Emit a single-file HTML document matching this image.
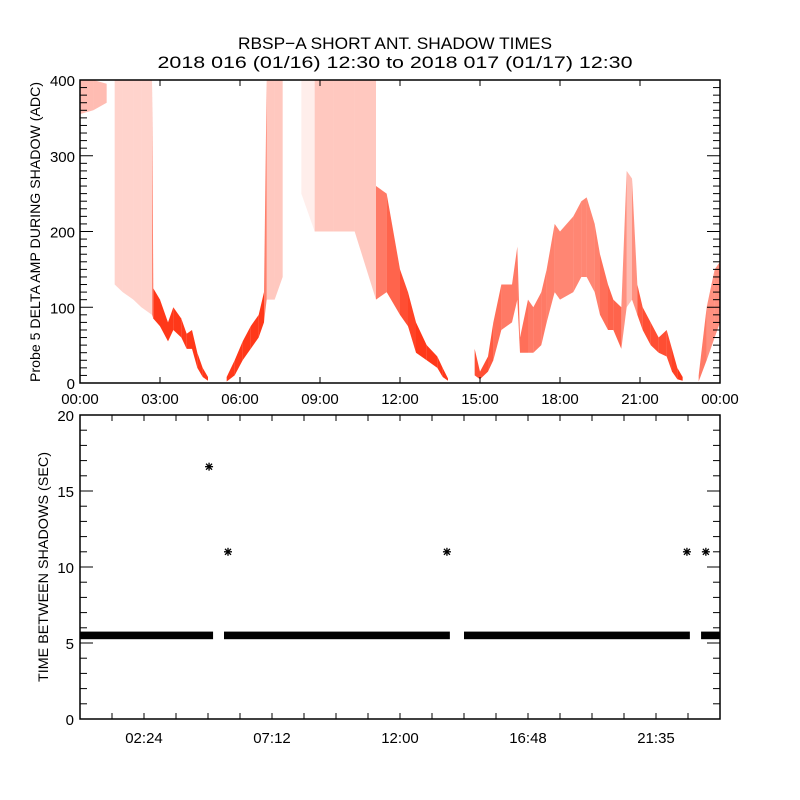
<!DOCTYPE html>
<html><head><meta charset="utf-8"><style>
html,body{margin:0;padding:0;background:#fff;}
svg{display:block;}
text{font-family:"Liberation Sans",sans-serif;fill:#000;}
</style></head><body>
<svg id="chart" width="800" height="800" viewBox="0 0 800 800" xmlns="http://www.w3.org/2000/svg">
<text x="395" y="49" font-size="17" text-anchor="middle" textLength="314" lengthAdjust="spacingAndGlyphs">RBSP−A SHORT ANT. SHADOW TIMES</text>
<text x="395" y="68" font-size="17" text-anchor="middle" textLength="475" lengthAdjust="spacingAndGlyphs">2018 016 (01/16) 12:30 to 2018 017 (01/17) 12:30</text>
<g id="topPanel"></g>
<g id="botPanel"></g>
<text transform="translate(40,232) rotate(-90)" font-size="14" text-anchor="middle" textLength="300" lengthAdjust="spacingAndGlyphs">Probe 5 DELTA AMP DURING SHADOW (ADC)</text>
<text transform="translate(48,567) rotate(-90)" font-size="14" text-anchor="middle" textLength="230" lengthAdjust="spacingAndGlyphs">TIME BETWEEN SHADOWS (SEC)</text>
</svg>
<script>
// ---- top panel data (envelope of red scatter); null = gap ----
const ampTimes = [0,0.5,1.0,1.15, 1.3,1.6,2.0,2.3,2.7, 2.75,3.0,3.3,3.5,3.8,4.0,4.2,4.4,4.6,4.8, 4.9, 5.5,5.8,6.1,6.4,6.7,6.9, 7.0,7.3,7.6, 7.6,8.3,8.8, 8.8,9.5,10.3,11.1, 11.1,11.5,12.0,12.3,12.6,13.0,13.4,13.6,13.8, 14.0, 14.8,15.0,15.3,15.5,15.8,16.2,16.4, 16.5,16.8,17.0,17.3,17.5,17.8,18.0,18.5,18.8,19.0,19.3,19.5,19.8,20.0,20.3, 20.5,20.7, 20.9,21.1,21.4,21.7,22.0,22.2,22.4,22.6, 22.9, 23.2,23.5,23.8,24];
const ampLow  = [355,360,370,null, 130,120,110,100,90, 85,75,55,70,60,45,45,20,8,3, null, 2,10,30,45,60,80, 110,110,140, null,250,200, 200,200,200,110, 110,120,90,75,40,30,20,8,3, null, 10,5,15,30,70,80,110, 40,40,40,50,80,120,110,120,140,140,120,90,70,70,45, 100,110, 90,70,50,40,35,15,5,3, null, 2,30,60,80];
const ampHigh = [400,400,395,null, 400,400,400,400,400, 125,110,80,100,85,65,70,40,20,8, null, 8,30,55,75,90,120, 400,400,400, null,400,400, 400,400,400,400, 260,250,150,120,80,50,35,20,6, null, 45,15,35,80,130,130,180, 60,110,100,120,150,210,200,220,240,245,210,170,130,110,100, 280,270, 130,100,80,60,70,45,20,8, null, 10,100,150,160];
const ampDensity = [0.3,0.3,0.3,0, 0.2,0.2,0.2,0.2,0.2, 0.9,0.9,0.9,0.9,0.9,0.9,0.9,0.9,0.9,0.9, 0, 0.9,0.9,0.9,0.9,0.9,0.9, 0.25,0.25,0.25, 0,0.08,0.08, 0.25,0.25,0.25,0.25, 0.6,0.6,0.8,0.8,0.9,0.9,0.9,0.9,0.9, 0, 0.8,0.8,0.8,0.7,0.6,0.6,0.6, 0.7,0.6,0.6,0.6,0.6,0.55,0.55,0.55,0.55,0.55,0.55,0.6,0.7,0.7,0.7, 0.3,0.3, 0.7,0.8,0.8,0.8,0.8,0.8,0.9,0.9, 0, 0.7,0.5,0.5,0.5];
const topXTicks = ["00:00","03:00","06:00","09:00","12:00","15:00","18:00","21:00","00:00"];
const topYTicks = [0,100,200,300,400];
// ---- bottom panel data ----
const bandStart = [0,5.4,14.4,23.29];
const bandEnd   = [4.99,13.87,22.87,24];
const bandValue = [5.5,5.5,5.5,5.5];
const outlierTimes  = [4.84,5.55,13.76,22.76,23.47];
const outlierValues = [16.6,11,11,11,11];
const botXTicks = ["02:24","07:12","12:00","16:48","21:35"];
const botXTickHours = [2.4,7.2,12.0,16.8,21.6];
const botYTicks = [0,5,10,15,20];

const NS="http://www.w3.org/2000/svg";
function mk(tag, attrs, parent){const e=document.createElementNS(NS,tag);for(const k in attrs)e.setAttribute(k,attrs[k]);parent.appendChild(e);return e;}

// top axes
const TL=80,TR=720,TT=80,TB=383;
const tx=t=>TL+(t/24)*(TR-TL);
const ty=v=>TB-(v/400)*(TB-TT);
const topG=document.getElementById('topPanel');
for(let i=0;i<ampTimes.length-1;i++){
  if(ampLow[i]===null||ampLow[i+1]===null)continue;
  if(ampTimes[i+1]===ampTimes[i])continue;
  const d=(ampDensity[i]+ampDensity[i+1])/2;
  if(d<=0)continue;
  const pts=[[tx(ampTimes[i]),ty(ampHigh[i])],[tx(ampTimes[i+1]),ty(ampHigh[i+1])],[tx(ampTimes[i+1]),ty(ampLow[i+1])],[tx(ampTimes[i]),ty(ampLow[i])]];
  const p=mk('polygon',{points:pts.map(q=>q.join(',')).join(' '),fill:'#ff2200','fill-opacity':d},topG);
  
  
}
const tbox=mk('rect',{x:TL,y:TT,width:TR-TL,height:TB-TT,fill:'none',stroke:'#000','stroke-width':1.5},topG);


for(let v=0;v<=400;v+=10){
  const L=(v%100===0)?13:7;
  mk('line',{x1:TL,x2:TL+L,y1:ty(v),y2:ty(v),stroke:'#000'},topG);
  mk('line',{x1:TR,x2:TR-L,y1:ty(v),y2:ty(v),stroke:'#000'},topG);
}
topYTicks.forEach(v=>{
  const t=mk('text',{x:TL-5,y:ty(v)+6,'font-size':15,'text-anchor':'end'},topG);t.textContent=v;
  
  
});
topXTicks.forEach((s,i)=>{
  const x=tx(i*3);
  mk('line',{x1:x,x2:x,y1:TB,y2:TB-6,stroke:'#000'},topG);
  mk('line',{x1:x,x2:x,y1:TT,y2:TT+6,stroke:'#000'},topG);
  const t=mk('text',{x:x,y:TB+21,'font-size':15,'text-anchor':'middle'},topG);t.textContent=s;
  
  
});

// bottom axes
const BL=80,BR=720,BT=415,BB=719;
const bx=t=>BL+(t/24)*(BR-BL);
const by=v=>BB-(v/20)*(BB-BT);
const botG=document.getElementById('botPanel');
for(let i=0;i<bandStart.length;i++){
  const r=mk('rect',{x:bx(bandStart[i]),y:by(bandValue[i]+0.25),width:bx(bandEnd[i])-bx(bandStart[i]),height:by(bandValue[i]-0.25)-by(bandValue[i]+0.25),fill:'#000'},botG);
  
  
}
for(let i=0;i<outlierTimes.length;i++){
  const cx=bx(outlierTimes[i]), cy=by(outlierValues[i]);
  const g=mk('g',{stroke:'#000','stroke-width':1.3},botG);
  
  
  mk('line',{x1:cx-4,x2:cx+4,y1:cy,y2:cy},g);
  mk('line',{x1:cx,x2:cx,y1:cy-4,y2:cy+4},g);
  mk('line',{x1:cx-3,x2:cx+3,y1:cy-3,y2:cy+3},g);
  mk('line',{x1:cx-3,x2:cx+3,y1:cy+3,y2:cy-3},g);
}
const bbox=mk('rect',{x:BL,y:BT,width:BR-BL,height:BB-BT,fill:'none',stroke:'#000','stroke-width':1.5},botG);


for(let v=0;v<=20;v++){
  const L=(v%5===0)?13:7;
  mk('line',{x1:BL,x2:BL+L,y1:by(v),y2:by(v),stroke:'#000'},botG);
  mk('line',{x1:BR,x2:BR-L,y1:by(v),y2:by(v),stroke:'#000'},botG);
}
botYTicks.forEach(v=>{
  const t=mk('text',{x:BL-6,y:by(v)+6,'font-size':15,'text-anchor':'end'},botG);t.textContent=v;
  
  
});
for(let k=0;k<=20;k++){
  const x=bx(k*1.2);
  mk('line',{x1:x,x2:x,y1:BB,y2:BB-6,stroke:'#000'},botG);
  mk('line',{x1:x,x2:x,y1:BT,y2:BT+6,stroke:'#000'},botG);
}
botXTicks.forEach((s,i)=>{
  const t=mk('text',{x:bx(botXTickHours[i]),y:BB+24,'font-size':15,'text-anchor':'middle'},botG);t.textContent=s;
  
  
});
</script>
</body></html>
